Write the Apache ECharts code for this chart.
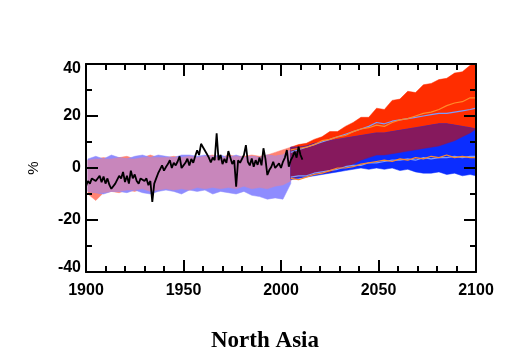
<!DOCTYPE html>
<html>
<head>
<meta charset="utf-8">
<script src="https://cdn.jsdelivr.net/npm/echarts@6/dist/echarts.min.js"></script>
<style>
  html, body { margin: 0; padding: 0; background: #fff; }
  #chart { width: 507px; height: 359px; }
</style>
</head>
<body>
<div id="chart"></div>
<script>
// observed annual anomaly (%), 1900 onwards
const obsStart = 1900;
const obsValues = [
  -7, -5, -6, -4, -3.5, -5, -4.5, -3, -5.5, -3.3,
  -6, -4, -6.5, -8, -7.5, -6, -5.4, -3, -4, -1.5,
  -5.4, -3, -6, -1, -4, -2.5, -5, -6, -4, -3.3,
  -5, -4, -6.6, -5, -13, -6, -4, -2, -0.5, 1,
  -1, 0.4, 1.5, 3, 0, 2, 1, 2.5, 4.5, 0,
  1, 2, 3.6, 1, 3.5, 2, 4.5, 6.8, 5, 9.3,
  8, 8.5, 5.4, 4, 2.2, 4, 3, 13.3, 3, 5,
  1.5, 3.5, 2, 6.5, 4, 1.5, 3, -7.2, 3, 2,
  1.5, 5, 8.8, 2.4, 1, 3.7, 0.5, 3, 1.2, 4,
  1, 7.6, 3.6, -2.7, -0.8, 0.4, 2.4, 0, -0.2, 1.8,
  0, 2.4, 4, 6.9, 0.5, 3, 4.4, 6.3, 4, 8.2,
  5, 3.2
];

// historical model ranges
const histYears = [1901, 1905, 1909, 1913, 1917, 1921, 1925, 1929, 1933, 1937, 1941, 1945, 1949, 1953,
  1957, 1961, 1965, 1969, 1973, 1977, 1981, 1985, 1989, 1993, 1997, 2001, 2005];
const histRedLow = [-10, -12.5, -9.5, -9, -9.5, -8.5, -9, -8, -9, -8.5, -8, -8.5, -8, -8.5,
  -7.5, -8, -7.5, -8, -7.5, -8, -7, -8, -7.5, -8, -7, -6.5, -5];
const histRedHigh = [3, 3.5, 4, 3.5, 4, 4.5, 3.5, 4, 5, 4, 4, 4.5, 4, 4.5,
  4, 4.5, 5, 4, 5, 4.5, 4.5, 5, 4.5, 5, 6, 7, 8];
const histBlueLow = [-9, -9.5, -10, -9, -9, -9.5, -8.5, -9.5, -10, -9, -8.5, -9, -10, -8.5,
  -9, -8.5, -10, -9, -9.5, -10, -9, -10.5, -11, -12, -11.5, -12, -6];
const histBlueHigh = [3.5, 4.5, 3.5, 5, 4, 3.5, 4.5, 5, 4, 5, 4.5, 4, 5, 5,
  4.5, 5, 4.5, 5, 4, 5, 4, 4.5, 4, 5, 4.5, 5, 7];

// scenario ranges
const futYears = [2005, 2009, 2013, 2017, 2021, 2025, 2029, 2033, 2037, 2041, 2045, 2049, 2053,
  2057, 2061, 2065, 2069, 2073, 2077, 2081, 2085, 2089, 2093, 2097, 2100];
const futRedLow = [-4, -3.5, -3, -2.5, -2, -1.5, -0.5, 0.5, 1.5, 3, 4, 5, 5,
  5.5, 6, 6.5, 7, 7.5, 8, 8.5, 9.5, 10.5, 12, 13.5, 15];
const futRedHigh = [8, 9, 9.5, 11, 12, 14, 14, 16, 17.5, 19.5, 19.5, 23, 22.5,
  26, 26.5, 29.5, 29, 32, 32.5, 34, 34.5, 36.5, 37, 39.5, 40];
const futBlueLow = [-4.5, -4, -3.5, -3, -2.5, -2, -1.5, -1, -0.5, 0, -0.5, 0, -0.5,
  0, -1, -0.5, -1.5, -2, -2, -1.5, -2.5, -2, -3, -2.5, -3];
const futBlueHigh = [8, 8, 8.5, 9.5, 10, 10.5, 11, 11.5, 12, 12.5, 13, 13.5, 13.5,
  14, 14.5, 15, 15.5, 16, 16.5, 17, 17, 16.5, 16, 15.5, 15];

// percentile lines
const orangeUpper = [7, 7.5, 8, 9, 10.5, 11, 12, 12.5, 14, 15, 15.5, 16.5, 16,
  17.5, 18.5, 19, 20, 21, 21.5, 22.5, 24, 25, 25.5, 27, 27];
const orangeLower = [-4, -4.5, -3.5, -2.5, -2, -1, 0, 0, 0.5, 1.5, 2, 2.5, 3,
  2.5, 3.5, 3, 4, 3.5, 4.5, 4, 5, 4, 4.5, 4, 4];
const skyUpper = [6, 7, 8, 9, 10, 11, 12, 13, 14, 15, 16, 17.5, 17,
  18, 18.5, 19, 19.5, 20, 20.5, 21, 21, 21.5, 22, 22.5, 23];
const skyLower = [-3.5, -3, -3, -2, -1.5, -1, -0.5, 0.5, 1, 1, 2, 2, 2.5,
  3, 3, 3.5, 3, 4, 3.5, 4, 4, 4.5, 4, 4.5, 4.5];

const xTicks = [1900, 2100, 50];
const yTicks = [-40, 40, 20];

const chart = echarts.init(document.getElementById('chart'));

// overlap of two ranges
function overlap(lowA, highA, lowB, highB) {
  const lo = lowA.map((v, i) => Math.max(v, lowB[i]));
  const hi = highA.map((v, i) => Math.max(lo[i], Math.min(v, highB[i])));
  return [lo, hi];
}

function band(years, low, high, color) {
  return {
    type: 'custom',
    silent: true,
    clip: true,
    data: [[years[0], low[0]]],
    renderItem: function (params, api) {
      const top = years.map((y, i) => api.coord([y, high[i]]));
      const bottom = years.map((y, i) => api.coord([y, low[i]])).reverse();
      return {
        type: 'polygon',
        shape: { points: top.concat(bottom) },
        style: { fill: color, stroke: color, lineWidth: 0.5 }
      };
    }
  };
}

function line(years, values, color, width) {
  return {
    type: 'line',
    data: years.map((y, i) => [y, values[i]]),
    symbol: 'none',
    silent: true,
    lineStyle: { color: color, width: width },
    clip: true
  };
}

const histBoth = overlap(histRedLow, histRedHigh, histBlueLow, histBlueHigh);
const futBoth = overlap(futRedLow, futRedHigh, futBlueLow, futBlueHigh);
const obsYears = obsValues.map((v, i) => obsStart + i);

function tickLabel(show, margin, fmt) {
  return {
    show: show, margin: margin, showMinLabel: true, showMaxLabel: true,
    color: '#000', fontFamily: 'Liberation Sans', fontWeight: 'bold', fontSize: 16,
    formatter: fmt,
    rich: {
      up: { fontFamily: 'Liberation Sans', fontWeight: 'bold', fontSize: 16, color: '#000', padding: [0, 0, 8, 0] },
      down: { fontFamily: 'Liberation Sans', fontWeight: 'bold', fontSize: 16, color: '#000', padding: [10, 0, 0, 0] }
    }
  };
}

function axisParts(minorSplit) {
  return {
    z: 10,
    axisLine: { show: true, onZero: false, lineStyle: { color: '#000', width: 2 } },
    axisTick: { show: true, inside: true, length: 12, lineStyle: { color: '#000', width: 2 } },
    minorTick: { show: true, splitNumber: minorSplit, length: 6, lineStyle: { color: '#000', width: 2 } },
    splitLine: { show: false },
    minorSplitLine: { show: false }
  };
}

// frame axes live on their own grid, data axes are hidden
function xAxis(pos, labels) {
  return Object.assign({
    type: 'value', gridIndex: 1, position: pos,
    min: xTicks[0], max: xTicks[1], interval: xTicks[2],
    axisLabel: tickLabel(labels, 11, v => String(v))
  }, axisParts(5));
}

function yAxis(pos, labels) {
  return Object.assign({
    type: 'value', gridIndex: 1, position: pos,
    min: yTicks[0], max: yTicks[1], interval: yTicks[2],
    name: labels ? '%' : '',
    nameLocation: 'middle',
    nameRotate: 90,
    nameGap: 45,
    nameTextStyle: { color: '#000', fontFamily: 'Liberation Sans', fontSize: 15 },
    axisLabel: tickLabel(labels, 5, function (v) {
      if (v === yTicks[1]) return '{down|' + v + '}';
      if (v === yTicks[0]) return '{up|' + v + '}';
      return String(v);
    })
  }, axisParts(2));
}

const plotBox = { left: 86, right: 31, top: 64, bottom: 87, outerBoundsMode: 'none' };

chart.setOption({
  animation: false,
  backgroundColor: '#fff',
  title: {
    text: 'North Asia', left: 211, top: 330, padding: 0,
    textStyle: { color: '#000', fontFamily: 'Liberation Serif', fontWeight: 'bold', fontSize: 23 }
  },
  grid: [Object.assign({}, plotBox), Object.assign({}, plotBox)],
  xAxis: [
    { type: 'value', gridIndex: 0, show: false, min: xTicks[0], max: xTicks[1] },
    xAxis('bottom', true),
    xAxis('top', false)
  ],
  yAxis: [
    { type: 'value', gridIndex: 0, show: false, min: yTicks[0], max: yTicks[1] },
    yAxis('left', true),
    yAxis('right', false)
  ],
  series: [
    band(histYears, histRedLow, histRedHigh, '#ff8272'),
    band(histYears, histBlueLow, histBlueHigh, '#8e8cff'),
    band(histYears, histBoth[0], histBoth[1], '#c886bb'),
    band(futYears, futRedLow, futRedHigh, '#ff2d00'),
    band(futYears, futBlueLow, futBlueHigh, '#0b2dff'),
    band(futYears, futBoth[0], futBoth[1], '#86195d'),
    line(futYears, skyUpper, '#7c9cff', 1.2),
    line(futYears, skyLower, '#7c9cff', 1.2),
    line(futYears, orangeUpper, '#ff8a2a', 1.2),
    line(futYears, orangeLower, '#ff8a2a', 1.2),
    line(obsYears, obsValues, '#000', 1.8)
  ]
});
</script>
</body>
</html>
